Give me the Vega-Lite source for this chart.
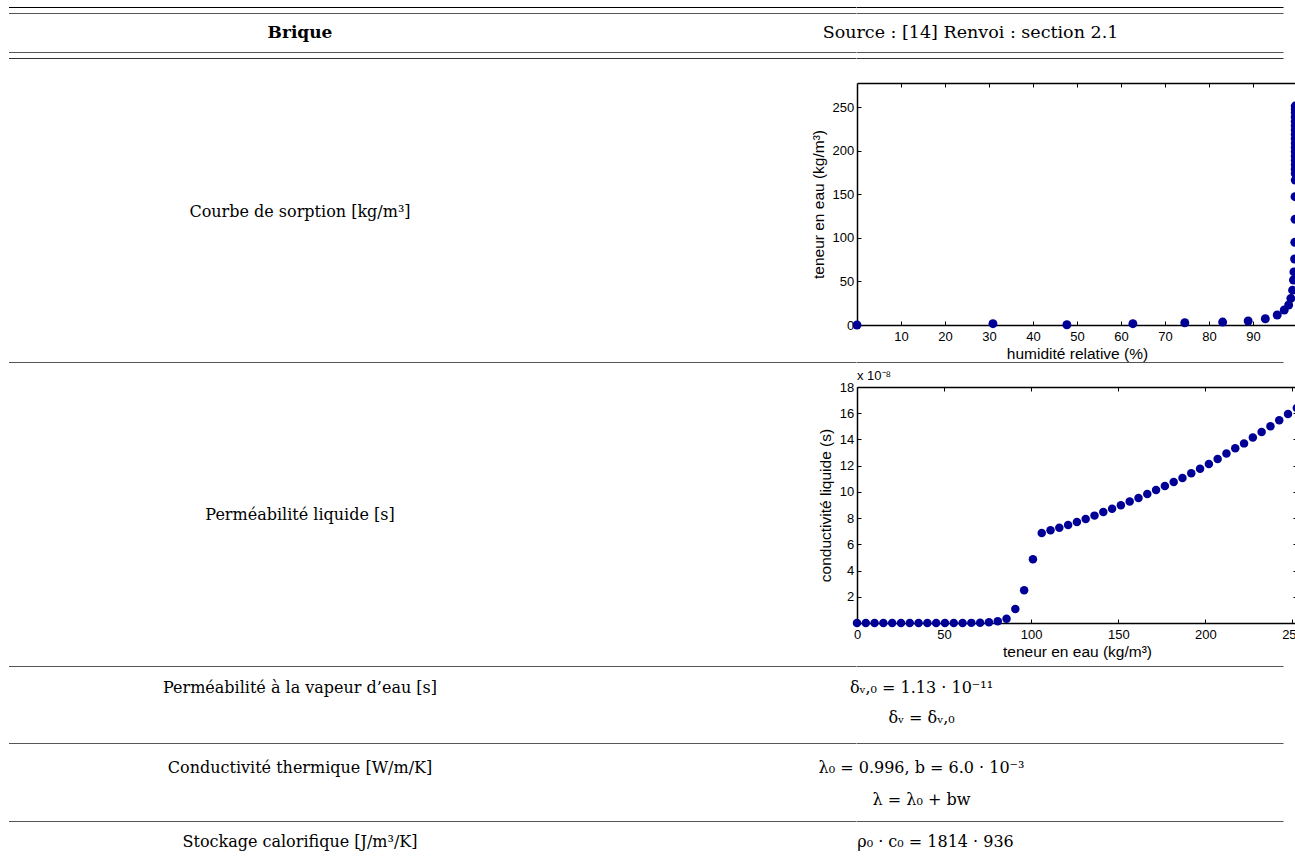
{
  "$schema": "https://vega.github.io/schema/vega-lite/v6.json",
  "background": "white",
  "padding": {"left": 9, "top": 0, "right": 0, "bottom": 0},
  "config": {
    "view": {"stroke": null},
    "axis": {
      "domainColor": "#000", "domainWidth": 1.5, "tickColor": "#000", "tickSize": -4, "tickWidth": 1,
      "grid": false, "labelFont": "Liberation Sans", "labelFontSize": 13, "labelColor": "#000",
      "labelFlush": false, "labelOverlap": false,
      "titleFont": "Liberation Sans", "titleFontSize": 15.5, "titleFontWeight": "normal", "titleColor": "#000"
    },
    "axisBottom": {"labelPadding": 9.7, "titlePadding": 3},
    "axisLeft": {"labelPadding": 7.2, "titlePadding": 5.7},
    "text": {"font": "DejaVu Serif", "fontSize": 16, "color": "#000"}
  },
  "datasets": {
    "cells": [
      {"id": "h1", "t": "Brique"},
      {"id": "h2", "t": "Source : [14] Renvoi : section 2.1"},
      {"id": "l1", "t": "Courbe de sorption [kg/m³]"},
      {"id": "l2", "t": "Perméabilité liquide [s]"},
      {"id": "l3", "t": "Perméabilité à la vapeur d’eau [s]"},
      {"id": "v3a", "t": "δᵥ,₀ = 1.13 · 10⁻¹¹"},
      {"id": "v3b", "t": "δᵥ = δᵥ,₀"},
      {"id": "l4", "t": "Conductivité thermique [W/m/K]"},
      {"id": "v4a", "t": "λ₀ = 0.996, b = 6.0 · 10⁻³"},
      {"id": "v4b", "t": "λ = λ₀ + bw"},
      {"id": "l5", "t": "Stockage calorifique [J/m³/K]"},
      {"id": "v5", "t": "ρ₀ · c₀ = 1814 · 936"}
    ],
    "sorption": [
      {"humidite": 0, "teneur": 0}, {"humidite": 30.9, "teneur": 1.5}, {"humidite": 47.7, "teneur": 0.3},
      {"humidite": 62.7, "teneur": 1.5}, {"humidite": 74.5, "teneur": 2.6}, {"humidite": 83.1, "teneur": 3.4},
      {"humidite": 88.9, "teneur": 4.6}, {"humidite": 92.8, "teneur": 7.2}, {"humidite": 95.5, "teneur": 11.5},
      {"humidite": 97.1, "teneur": 17.2}, {"humidite": 98.1, "teneur": 23}, {"humidite": 98.6, "teneur": 30.6},
      {"humidite": 99.0, "teneur": 40}, {"humidite": 99.2, "teneur": 51.7}, {"humidite": 99.3, "teneur": 61},
      {"humidite": 99.45, "teneur": 75.8}, {"humidite": 99.5, "teneur": 95}, {"humidite": 99.55, "teneur": 121.4},
      {"humidite": 99.55, "teneur": 147.4}, {"humidite": 99.6, "teneur": 166.5}, {"humidite": 99.6, "teneur": 174},
      {"humidite": 99.6, "teneur": 179}, {"humidite": 99.6, "teneur": 184}, {"humidite": 99.6, "teneur": 189},
      {"humidite": 99.6, "teneur": 194}, {"humidite": 99.6, "teneur": 199}, {"humidite": 99.6, "teneur": 204},
      {"humidite": 99.6, "teneur": 209}, {"humidite": 99.6, "teneur": 214}, {"humidite": 99.6, "teneur": 219},
      {"humidite": 99.6, "teneur": 224}, {"humidite": 99.6, "teneur": 229}, {"humidite": 99.6, "teneur": 234},
      {"humidite": 99.6, "teneur": 239}, {"humidite": 99.6, "teneur": 244}, {"humidite": 99.6, "teneur": 248},
      {"humidite": 99.6, "teneur": 251.5}
    ],
    "conductivite": [
      {"w": 0, "k": 0}, {"w": 5.05, "k": 0}, {"w": 10.1, "k": 0}, {"w": 15.15, "k": 0}, {"w": 20.2, "k": 0},
      {"w": 25.25, "k": 0}, {"w": 30.3, "k": 0}, {"w": 35.35, "k": 0}, {"w": 40.4, "k": 0}, {"w": 45.45, "k": 0},
      {"w": 50.5, "k": 0}, {"w": 55.55, "k": 0}, {"w": 60.6, "k": 0}, {"w": 65.65, "k": 0.01}, {"w": 70.7, "k": 0.02},
      {"w": 75.75, "k": 0.05}, {"w": 80.8, "k": 0.13}, {"w": 85.85, "k": 0.33}, {"w": 90.9, "k": 1.07}, {"w": 95.95, "k": 2.49},
      {"w": 101.0, "k": 4.86}, {"w": 106.05, "k": 6.86}, {"w": 111.1, "k": 7.07}, {"w": 116.15, "k": 7.27}, {"w": 121.2, "k": 7.48},
      {"w": 126.25, "k": 7.70}, {"w": 131.3, "k": 7.93}, {"w": 136.35, "k": 8.19}, {"w": 141.4, "k": 8.47}, {"w": 146.45, "k": 8.72},
      {"w": 151.5, "k": 8.98}, {"w": 156.55, "k": 9.26}, {"w": 161.6, "k": 9.53}, {"w": 166.65, "k": 9.84}, {"w": 171.7, "k": 10.14},
      {"w": 176.75, "k": 10.45}, {"w": 181.8, "k": 10.76}, {"w": 186.85, "k": 11.06}, {"w": 191.9, "k": 11.42}, {"w": 196.95, "k": 11.77},
      {"w": 202.0, "k": 12.13}, {"w": 207.05, "k": 12.51}, {"w": 212.1, "k": 12.92}, {"w": 217.15, "k": 13.32}, {"w": 222.2, "k": 13.70},
      {"w": 227.25, "k": 14.14}, {"w": 232.3, "k": 14.57}, {"w": 237.35, "k": 15.00}, {"w": 242.4, "k": 15.46}, {"w": 247.45, "k": 15.94},
      {"w": 252.5, "k": 16.40}
    ]
  },
  "concat": [
    {"width": 1, "height": 7, "data": {"values": []}, "mark": "text"},
    {"width": 1, "height": 7, "data": {"values": []}, "mark": "text"},

    {"width": 847.5, "height": 1, "data": {"values": []}, "mark": "text", "view": {"fill": "#000", "stroke": null}},
    {"width": 426.5, "height": 1, "data": {"values": []}, "mark": "text", "view": {"fill": "#000", "stroke": null}},

    {"width": 1, "height": 5, "data": {"values": []}, "mark": "text"},
    {"width": 1, "height": 5, "data": {"values": []}, "mark": "text"},

    {"width": 847.5, "height": 1, "data": {"values": []}, "mark": "text", "view": {"fill": "#555", "stroke": null}},
    {"width": 426.5, "height": 1, "data": {"values": []}, "mark": "text", "view": {"fill": "#555", "stroke": null}},

    {"width": 582, "height": 38, "data": {"name": "cells"}, "transform": [{"filter": "datum.id === 'h1'"}],
     "mark": {"type": "text", "fontWeight": "bold", "fontSize": 17},
     "encoding": {"text": {"field": "t", "type": "nominal"}}},
    {"width": 227, "height": 38, "data": {"name": "cells"}, "transform": [{"filter": "datum.id === 'h2'"}],
     "mark": {"type": "text", "fontSize": 17.5},
     "encoding": {"text": {"field": "t", "type": "nominal"}}},

    {"width": 847.5, "height": 1, "data": {"values": []}, "mark": "text", "view": {"fill": "#555", "stroke": null}},
    {"width": 426.5, "height": 1, "data": {"values": []}, "mark": "text", "view": {"fill": "#555", "stroke": null}},

    {"width": 1, "height": 5, "data": {"values": []}, "mark": "text"},
    {"width": 1, "height": 5, "data": {"values": []}, "mark": "text"},

    {"width": 847.5, "height": 1, "data": {"values": []}, "mark": "text", "view": {"fill": "#333", "stroke": null}},
    {"width": 426.5, "height": 1, "data": {"values": []}, "mark": "text", "view": {"fill": "#333", "stroke": null}},

    {"width": 1, "height": 24, "data": {"values": []}, "mark": "text"},
    {"width": 1, "height": 24, "data": {"values": []}, "mark": "text"},

    {"width": 582, "height": 257, "data": {"name": "cells"}, "transform": [{"filter": "datum.id === 'l1'"}],
     "mark": {"type": "text"},
     "encoding": {"text": {"field": "t", "type": "nominal"}}},
    {
      "width": 440, "height": 242,
      "data": {"name": "sorption"},
      "layer": [
        {
          "mark": {"type": "circle", "size": 80, "color": "#000096", "opacity": 1},
          "encoding": {
            "x": {"field": "humidite", "type": "quantitative", "scale": {"domain": [0, 100], "nice": false, "zero": false},
                  "axis": {"orient": "bottom", "values": [10, 20, 30, 40, 50, 60, 70, 80, 90], "title": "humidité relative (%)"}},
            "y": {"field": "teneur", "type": "quantitative", "scale": {"domain": [0, 278], "nice": false},
                  "axis": {"orient": "left", "values": [0, 50, 100, 150, 200, 250], "title": "teneur en eau (kg/m³)"}}
          }
        },
        {
          "mark": {"type": "circle", "opacity": 0},
          "encoding": {
            "x": {"field": "humidite", "type": "quantitative",
                  "axis": {"orient": "top", "values": [10, 20, 30, 40, 50, 60, 70, 80, 90], "labels": false, "title": null}},
            "y": {"field": "teneur", "type": "quantitative",
                  "axis": {"orient": "right", "values": [0, 50, 100, 150, 200, 250], "labels": false, "title": null}}
          }
        }
      ],
      "resolve": {"axis": {"x": "independent", "y": "independent"}}
    },

    {"width": 1, "height": 22, "data": {"values": []}, "mark": "text"},
    {"width": 1, "height": 22, "data": {"values": []}, "mark": "text"},

    {"width": 847.5, "height": 1, "data": {"values": []}, "mark": "text", "view": {"fill": "#555", "stroke": null}},
    {"width": 426.5, "height": 1, "data": {"values": []}, "mark": "text", "view": {"fill": "#555", "stroke": null}},

    {"width": 1, "height": 24, "data": {"values": []}, "mark": "text"},
    {"width": 1, "height": 24, "data": {"values": []}, "mark": "text"},

    {"width": 582, "height": 255, "data": {"name": "cells"}, "transform": [{"filter": "datum.id === 'l2'"}],
     "mark": {"type": "text"},
     "encoding": {"text": {"field": "t", "type": "nominal"}}},
    {
      "width": 440, "height": 236,
      "data": {"name": "conductivite"},
      "title": {"text": "x 10⁻⁸", "anchor": "start", "frame": "group", "font": "Liberation Sans", "fontSize": 13,
                "fontWeight": "normal", "baseline": "alphabetic", "offset": 7, "dy": 19, "color": "#000"},
      "layer": [
        {
          "mark": {"type": "circle", "size": 72, "color": "#000096", "opacity": 1},
          "encoding": {
            "x": {"field": "w", "type": "quantitative", "scale": {"domain": [0, 252.6], "nice": false, "zero": false},
                  "axis": {"orient": "bottom", "values": [0, 50, 100, 150, 200, 250], "title": "teneur en eau (kg/m³)"}},
            "y": {"field": "k", "type": "quantitative", "scale": {"domain": [0, 18], "nice": false},
                  "axis": {"orient": "left", "values": [2, 4, 6, 8, 10, 12, 14, 16, 18], "title": "conductivité liquide (s)"}}
          }
        },
        {
          "mark": {"type": "circle", "opacity": 0},
          "encoding": {
            "x": {"field": "w", "type": "quantitative",
                  "axis": {"orient": "top", "values": [0, 50, 100, 150, 200, 250], "labels": false, "title": null}},
            "y": {"field": "k", "type": "quantitative",
                  "axis": {"orient": "right", "values": [2, 4, 6, 8, 10, 12, 14, 16, 18], "labels": false, "title": null}}
          }
        }
      ],
      "resolve": {"axis": {"x": "independent", "y": "independent"}}
    },

    {"width": 1, "height": 24, "data": {"values": []}, "mark": "text"},
    {"width": 1, "height": 24, "data": {"values": []}, "mark": "text"},

    {"width": 847.5, "height": 1, "data": {"values": []}, "mark": "text", "view": {"fill": "#555", "stroke": null}},
    {"width": 426.5, "height": 1, "data": {"values": []}, "mark": "text", "view": {"fill": "#555", "stroke": null}},

    {"width": 582, "height": 42, "data": {"name": "cells"}, "transform": [{"filter": "datum.id === 'l3'"}],
     "mark": {"type": "text"},
     "encoding": {"text": {"field": "t", "type": "nominal"}}},
    {"width": 129, "height": 42, "data": {"name": "cells"}, "transform": [{"filter": "datum.id === 'v3a'"}],
     "mark": {"type": "text"},
     "encoding": {"text": {"field": "t", "type": "nominal"}}},

    {"width": 1, "height": 18, "data": {"values": []}, "mark": "text"},
    {"width": 129, "height": 18, "data": {"name": "cells"}, "transform": [{"filter": "datum.id === 'v3b'"}],
     "mark": {"type": "text"},
     "encoding": {"text": {"field": "t", "type": "nominal"}}},

    {"width": 1, "height": 16, "data": {"values": []}, "mark": "text"},
    {"width": 1, "height": 16, "data": {"values": []}, "mark": "text"},

    {"width": 847.5, "height": 1, "data": {"values": []}, "mark": "text", "view": {"fill": "#555", "stroke": null}},
    {"width": 426.5, "height": 1, "data": {"values": []}, "mark": "text", "view": {"fill": "#555", "stroke": null}},

    {"width": 582, "height": 48, "data": {"name": "cells"}, "transform": [{"filter": "datum.id === 'l4'"}],
     "mark": {"type": "text"},
     "encoding": {"text": {"field": "t", "type": "nominal"}}},
    {"width": 129, "height": 48, "data": {"name": "cells"}, "transform": [{"filter": "datum.id === 'v4a'"}],
     "mark": {"type": "text"},
     "encoding": {"text": {"field": "t", "type": "nominal"}}},

    {"width": 1, "height": 16, "data": {"values": []}, "mark": "text"},
    {"width": 129, "height": 16, "data": {"name": "cells"}, "transform": [{"filter": "datum.id === 'v4b'"}],
     "mark": {"type": "text"},
     "encoding": {"text": {"field": "t", "type": "nominal"}}},

    {"width": 1, "height": 13, "data": {"values": []}, "mark": "text"},
    {"width": 1, "height": 13, "data": {"values": []}, "mark": "text"},

    {"width": 847.5, "height": 1, "data": {"values": []}, "mark": "text", "view": {"fill": "#555", "stroke": null}},
    {"width": 426.5, "height": 1, "data": {"values": []}, "mark": "text", "view": {"fill": "#555", "stroke": null}},

    {"width": 582, "height": 36, "data": {"name": "cells"}, "transform": [{"filter": "datum.id === 'l5'"}],
     "mark": {"type": "text", "dy": 2},
     "encoding": {"text": {"field": "t", "type": "nominal"}}},
    {"width": 157, "height": 36, "data": {"name": "cells"}, "transform": [{"filter": "datum.id === 'v5'"}],
     "mark": {"type": "text", "dy": 2},
     "encoding": {"text": {"field": "t", "type": "nominal"}}}
  ],
  "columns": 2,
  "spacing": 0,
  "align": "each",
  "bounds": "flush"
}
